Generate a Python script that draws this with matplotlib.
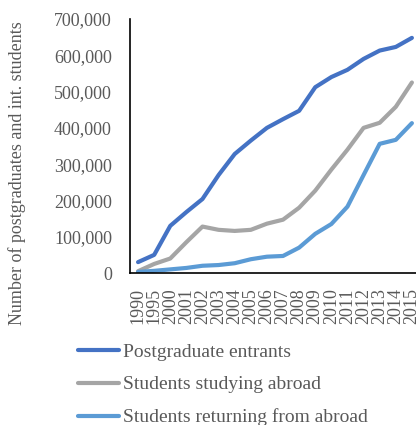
import matplotlib
matplotlib.use("Agg")
import matplotlib.pyplot as plt

years = ["1990", "1995", "2000", "2001", "2002", "2003", "2004", "2005", "2006",
         "2007", "2008", "2009", "2010", "2011", "2012", "2013", "2014", "2015"]
postgraduate_entrants = [30000, 50000, 130000, 168000, 204000, 270000, 328000, 365000, 400000,
                         424000, 447000, 512000, 540000, 560000, 590000, 613000, 623000, 648000]
studying_abroad = [5000, 25000, 40000, 85000, 128000, 119000, 116000, 119000, 136000,
                   147000, 180000, 227000, 285000, 340000, 400000, 414000, 458000, 525000]
returning_from_abroad = [3000, 6000, 10000, 14000, 20000, 22000, 27000, 38000, 45000,
                         47000, 70000, 108000, 135000, 183000, 270000, 356000, 367000, 413000]
series_labels = ["Postgraduate entrants", "Students studying abroad", "Students returning from abroad"]
yticks = [0, 100000, 200000, 300000, 400000, 500000, 600000, 700000]

plt.rcParams["font.family"] = ["Liberation Serif", "DejaVu Serif"]
text_color = "#595959"

fig = plt.figure(figsize=(4.16, 4.25), dpi=100)
ax = fig.add_axes([0.3125, 0.3576, 0.697, 0.5977])

x = list(range(len(years)))
colors = ["#4472C4", "#A5A5A5", "#5B9BD5"]
for vals, lab, c in zip([postgraduate_entrants, studying_abroad, returning_from_abroad],
                        series_labels, colors):
    ax.plot(x, vals, color=c, lw=3.0, label=lab, solid_capstyle="round")

ax.set_xlim(-0.5, len(years) - 0.5)
ax.set_ylim(0, 700000)
ax.set_xticks(x)
ax.set_xticklabels(years, rotation=90, fontsize=13, color=text_color)
ax.set_yticks(yticks)
ax.set_yticklabels([f"{v:,}" for v in yticks], fontsize=13, color=text_color)
ax.tick_params(axis="both", length=0)
ax.tick_params(axis="y", pad=13)
ax.tick_params(axis="x", pad=11)
for s in ["top", "right"]:
    ax.spines[s].set_visible(False)
for s in ["left", "bottom"]:
    ax.spines[s].set_color("black")
    ax.spines[s].set_linewidth(1.2)

fig.text(17 / 416, 1 - 173 / 425, "Number of postgraduates and int. students",
         rotation=90, ha="center", va="center", fontsize=13, color=text_color)

handles, labels = ax.get_legend_handles_labels()
fig.legend(handles, labels, loc="upper left", bbox_to_anchor=(78 / 416, 1 - 343 / 425),
           frameon=False, fontsize=14, labelcolor=text_color, handlelength=2.1,
           handletextpad=0.2, labelspacing=0.78, borderaxespad=0, borderpad=0)

fig.savefig("out.png", dpi=100)
